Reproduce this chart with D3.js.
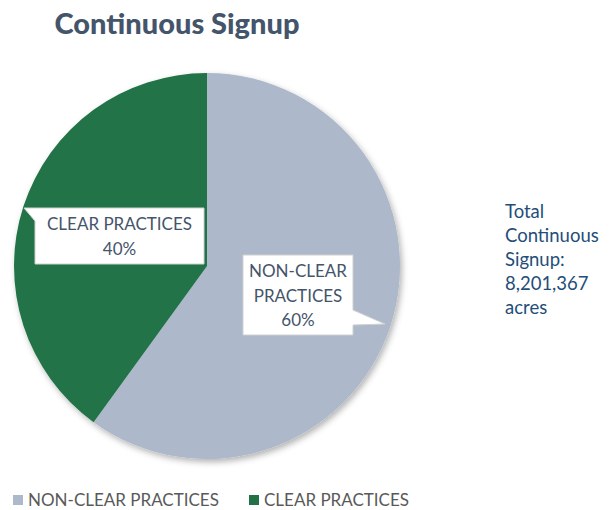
<!DOCTYPE html>
<html><head><meta charset="utf-8">
<script src="https://cdn.jsdelivr.net/npm/d3@7"></script>
<style>body{margin:0;background:#fff}svg{display:block}</style>
</head><body>
<svg id="c" width="609" height="510"></svg>
<script>
const categories = ["NON-CLEAR PRACTICES", "CLEAR PRACTICES"];
const values = [60, 40];
const labelLines = [["NON-CLEAR", "PRACTICES"], ["CLEAR PRACTICES"]];
const colors = ["#ADB9CA", "#217346"];
const title = "Continuous Signup";
const sideNote = ["Total", "Continuous", "Signup:", "8,201,367", "acres"];

const svg = d3.select("#c");
const font = "Lato, 'Open Sans', sans-serif";
const cx = 207, cy = 266, r = 193;

const defs = svg.append("defs");
const f = defs.append("filter").attr("id","sh").attr("x","-20%").attr("y","-20%").attr("width","140%").attr("height","140%");
f.append("feDropShadow").attr("dx",2).attr("dy",3).attr("stdDeviation",3).attr("flood-color","#000").attr("flood-opacity",0.3);

svg.append("text").attr("x",177).attr("y",34).attr("text-anchor","middle")
  .attr("font-family",font).attr("font-weight","900").attr("font-size",29).attr("fill","#44546A").text(title);

const pie = d3.pie().sort(null).value(d=>d)(values);
const arc = d3.arc().innerRadius(0).outerRadius(r);
const g = svg.append("g").attr("transform",`translate(${cx},${cy})`);
g.append("g").attr("filter","url(#sh)").selectAll("path").data(pie).join("path")
  .attr("d",arc).attr("fill",(d,i)=>colors[i]);

// callouts (layout)
const boxes = [
  {x:243,y:255,w:110,h:80, tip:[385,324], base:[[353,310],[353,325]], lines:[...labelLines[0], values[0]+"%"], ty:277},
  {x:35,y:208,w:169,h:56, tip:[24,208], base:[[35,208],[35,221]], lines:[...labelLines[1], values[1]+"%"], ty:230}
];
boxes.forEach(b=>{
  const p = d3.path();
  if (b.base[0][0] === b.x) {
    p.moveTo(b.x, b.y); p.lineTo(b.x+b.w, b.y); p.lineTo(b.x+b.w, b.y+b.h); p.lineTo(b.x, b.y+b.h);
    p.lineTo(b.base[1][0], b.base[1][1]); p.lineTo(b.tip[0], b.tip[1]); p.lineTo(b.base[0][0], b.base[0][1]); p.closePath();
  } else {
    p.moveTo(b.x, b.y); p.lineTo(b.x+b.w, b.y); p.lineTo(b.base[0][0], b.base[0][1]); p.lineTo(b.tip[0], b.tip[1]);
    p.lineTo(b.base[1][0], b.base[1][1]); p.lineTo(b.x+b.w, b.y+b.h); p.lineTo(b.x, b.y+b.h); p.closePath();
  }
  svg.append("path").attr("d",p.toString()).attr("fill","#fff").attr("stroke","#d0d0d0").attr("stroke-width",1);
  const t = svg.append("text").attr("text-anchor","middle").attr("font-family",font).attr("font-size",17).attr("fill","#44546A");
  b.lines.forEach((l,i)=>t.append("tspan").attr("x",b.x+b.w/2).attr("y",b.ty+i*24.5).text(l));
});

const st = svg.append("text").attr("font-family",font).attr("font-size",18.5).attr("fill","#1F4E79");
sideNote.forEach((l,i)=>st.append("tspan").attr("x",505).attr("y",218+i*24).text(l));

// legend
const lx = [13, 249];
categories.forEach((c,i)=>{
  svg.append("rect").attr("x",lx[i]).attr("y",495).attr("width",10).attr("height",10).attr("fill",colors[i]);
  svg.append("text").attr("x",lx[i]+15).attr("y",506).attr("font-family",font).attr("font-size",17).attr("fill","#595959").text(c);
});
</script>
</body></html>
